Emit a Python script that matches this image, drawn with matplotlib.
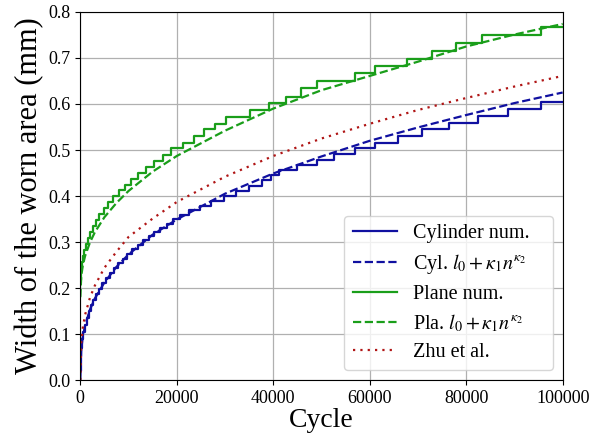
import matplotlib
matplotlib.use("Agg")
import matplotlib.pyplot as plt

# ---- data ----
# numerical cylinder width: step positions (cycles) and width after the step (mm)
cyl_num_n = [0, 70, 190, 400, 630, 930, 1300, 1750, 2200, 2700,
             3250, 3900, 4600, 5300, 6100, 6950, 7850, 8750, 9750, 10800,
             11900, 13000, 14200, 15300, 16600, 17900, 19200, 20700, 22600, 24800,
             27100, 29700, 32300, 34900, 37700, 39500, 41250, 45000, 49000, 52530,
             57010, 61090, 65920, 70900, 76500, 82380, 88720, 95440, 100000]
cyl_num_w = [0.02, 0.05, 0.07, 0.09, 0.105, 0.12, 0.135, 0.15, 0.162, 0.174,
             0.186, 0.198, 0.21, 0.221, 0.232, 0.243, 0.254, 0.264, 0.274, 0.284,
             0.294, 0.304, 0.313, 0.322, 0.331, 0.340, 0.350, 0.359, 0.369, 0.379,
             0.389, 0.400, 0.411, 0.422, 0.434, 0.445, 0.4565, 0.467, 0.478, 0.4906,
             0.504, 0.516, 0.530, 0.545, 0.559, 0.574, 0.589, 0.604, 0.604]

# numerical plane width
pla_num_n = [0, 13, 58, 148, 289, 490, 754, 1088, 1497, 1985,
             2555, 3220, 3970, 4810, 5750, 6780, 7930, 9180, 10540, 12010,
             13610, 15320, 17130, 18800, 21350, 23570, 25700, 27920, 30200, 35180,
             39180, 42580, 45690, 49130, 56970, 61110, 67670, 72970, 77880, 83200,
             95440, 100000]
pla_num_w = [0.185, 0.217, 0.230, 0.243, 0.256, 0.269, 0.282, 0.295, 0.308, 0.321,
             0.334, 0.347, 0.360, 0.373, 0.386, 0.399, 0.412, 0.425, 0.438, 0.451,
             0.464, 0.477, 0.490, 0.5035, 0.516, 0.530, 0.545, 0.557, 0.572, 0.588,
             0.603, 0.616, 0.634, 0.649, 0.6667, 0.682, 0.698, 0.715, 0.732, 0.749,
             0.767, 0.767]

# fitted curves and Zhu et al. (sampled)
fit_n = [0, 200, 500, 1000, 2000, 3000, 5000, 7500, 10000, 15000,
         20000, 30000, 40000, 50000, 60000, 70000, 80000, 90000, 100000]
cyl_fit = [0, 0.067, 0.093, 0.119, 0.153, 0.177, 0.212, 0.246, 0.273, 0.316,
           0.349, 0.405, 0.449, 0.486, 0.520, 0.549, 0.576, 0.602, 0.625]
pla_fit = [0.18, 0.226, 0.248, 0.270, 0.299, 0.321, 0.354, 0.385, 0.411, 0.453,
           0.487, 0.542, 0.590, 0.630, 0.661, 0.692, 0.725, 0.751, 0.774]
zhu = [0, 0.083, 0.113, 0.142, 0.179, 0.205, 0.244, 0.279, 0.311, 0.351,
       0.387, 0.442, 0.487, 0.525, 0.557, 0.587, 0.613, 0.638, 0.661]

x_ticks = [0, 20000, 40000, 60000, 80000, 100000]
y_ticks = [0.0, 0.1, 0.2, 0.3, 0.4, 0.5, 0.6, 0.7, 0.8]

# ---- style ----
plt.rcParams['font.family'] = ['Liberation Serif', 'DejaVu Serif']
plt.rcParams['mathtext.fontset'] = 'stix'

blue = '#1010a0'
green = '#1a9e1a'
red = '#b01515'

fig = plt.figure(figsize=(6.14, 4.41), dpi=100)
ax = fig.add_axes([0.1308, 0.1383, 0.7856, 0.8345])

ax.step(cyl_num_n, cyl_num_w, where='post', color=blue, lw=1.6,
        label='Cylinder num.   ')
ax.plot(fit_n, cyl_fit, '--', color=blue, lw=1.6,
        label=r'Cyl. $l_0+\kappa_1 n^{\kappa_2}$')
ax.step(pla_num_n, pla_num_w, where='post', color=green, lw=1.6, label='Plane num.')
ax.plot(fit_n, pla_fit, '--', color=green, lw=1.6,
        label=r'Pla. $l_0+\kappa_1 n^{\kappa_2}$')
ax.plot(fit_n, zhu, linestyle=(0, (1, 2.3)), color=red, lw=1.6, label='Zhu et al.')

ax.set_xlim(0, 100000)
ax.set_ylim(0, 0.8)
ax.set_xticks(x_ticks)
ax.set_xticklabels([str(v) for v in x_ticks])
ax.set_yticks(y_ticks)
ax.set_yticklabels([f'{v:.1f}' for v in y_ticks])
ax.tick_params(labelsize=13)
ax.grid(True, color='#b0b0b0', lw=0.9)
ax.set_axisbelow(True)

ax.set_xlabel('Cycle', fontsize=20, labelpad=1)
ax.set_ylabel('Width of the worn area (mm)', fontsize=22, labelpad=3)

ax.legend(loc='lower right', fontsize=14.5, framealpha=0.8, handlelength=2.2,
          labelspacing=0.43)

fig.savefig('out.png', dpi=100)
